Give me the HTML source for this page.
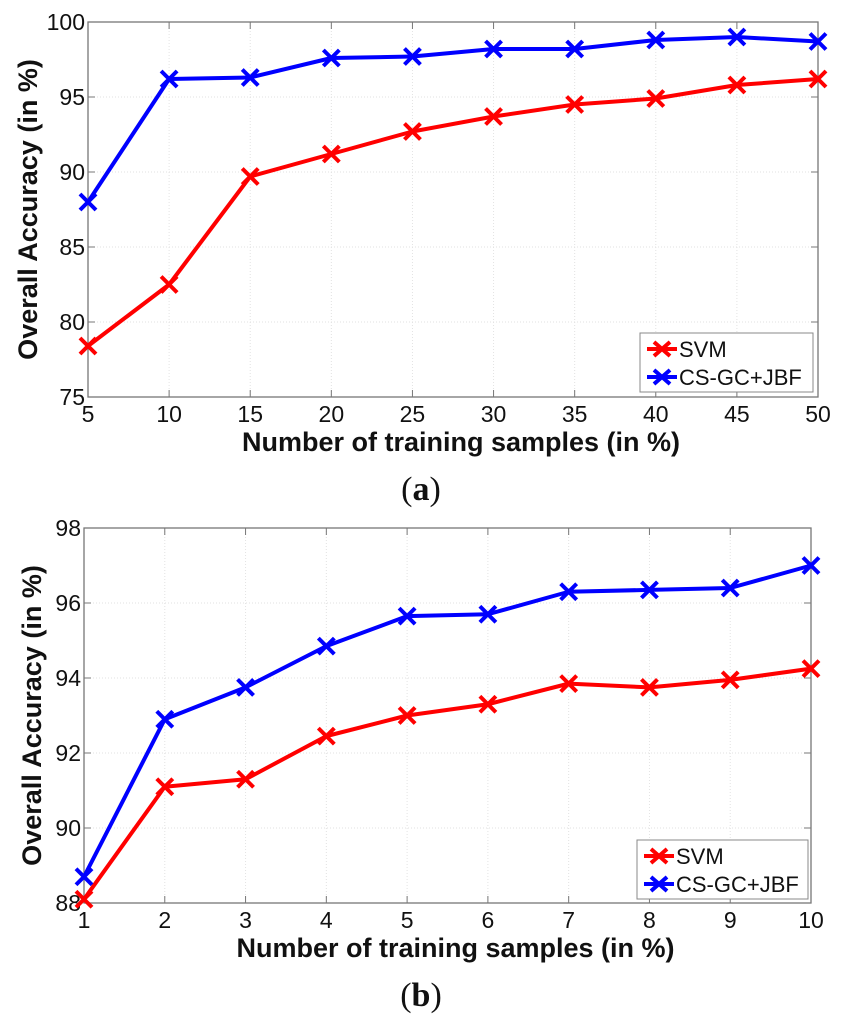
<!DOCTYPE html>
<html><head><meta charset="utf-8"><style>
body{margin:0;background:#fff;}
svg{display:block;font-family:"Liberation Sans",sans-serif;}
</style></head><body>
<svg id="svg" width="843" height="1024" viewBox="0 0 843 1024" xmlns="http://www.w3.org/2000/svg"></svg>
<script>
const xCatsA=[5,10,15,20,25,30,35,40,45,50];
const svmA=[78.4,82.5,89.7,91.2,92.7,93.7,94.5,94.9,95.8,96.2];
const csA=[88.0,96.2,96.3,97.6,97.7,98.2,98.2,98.8,99.0,98.7];
const yTicksA=[75,80,85,90,95,100];
const xCatsB=[1,2,3,4,5,6,7,8,9,10];
const svmB=[88.1,91.1,91.3,92.45,93.0,93.3,93.85,93.75,93.95,94.25];
const csB=[88.7,92.9,93.75,94.85,95.65,95.7,96.3,96.35,96.4,97.0];
const yTicksB=[88,90,92,94,96,98];
const seriesNames=["SVM","CS-GC+JBF"];

const NS="http://www.w3.org/2000/svg";
const svg=document.getElementById('svg');
function mk(tag,attrs,parent){const e=document.createElementNS(NS,tag);for(const k in attrs)e.setAttribute(k,attrs[k]);(parent||svg).appendChild(e);return e;}

function chart(id,box,xs,yT,s1,s2,leg,ytx,label){
  const g=mk('g',{});
  
  
  const xmin=xs[0],xmax=xs[xs.length-1],ymin=yT[0],ymax=yT[yT.length-1];
  const X=v=>box.l+(v-xmin)/(xmax-xmin)*(box.r-box.l);
  const Y=v=>box.b-(v-ymin)/(ymax-ymin)*(box.b-box.t);
  xs.forEach(v=>{const l=mk('line',{x1:X(v),x2:X(v),y1:box.t,y2:box.b,stroke:'#e2e2e2','stroke-width':1,'stroke-dasharray':'1 2'},g);
    });
  yT.forEach(v=>{const l=mk('line',{x1:box.l,x2:box.r,y1:Y(v),y2:Y(v),stroke:'#e2e2e2','stroke-width':1,'stroke-dasharray':'1 2'},g);
    });
  const fr=mk('rect',{x:box.l,y:box.t,width:box.r-box.l,height:box.b-box.t,fill:'none',stroke:'#777','stroke-width':1.3},g);
  
  xs.forEach(v=>{
    mk('line',{x1:X(v),x2:X(v),y1:box.b,y2:box.b-7,stroke:'#777'},g);
    mk('line',{x1:X(v),x2:X(v),y1:box.t,y2:box.t+7,stroke:'#777'},g);
    const t=mk('text',{x:X(v),y:box.b+25,'text-anchor':'middle','font-size':23,fill:'#111'},g);
    t.textContent=v;});
  yT.forEach(v=>{
    mk('line',{x1:box.l,x2:box.l+7,y1:Y(v),y2:Y(v),stroke:'#777'},g);
    mk('line',{x1:box.r,x2:box.r-7,y1:Y(v),y2:Y(v),stroke:'#777'},g);
    const t=mk('text',{x:box.l-3,y:Y(v)+8,'text-anchor':'end','font-size':23,fill:'#111'},g);
    t.textContent=v;});
  const cols=['#ff0000','#0000ff'];
  [s1,s2].forEach((s,i)=>{
    const pts=s.map((v,j)=>X(xs[j])+','+Y(v)).join(' ');
    const pl=mk('polyline',{points:pts,fill:'none',stroke:cols[i],'stroke-width':4,'stroke-linejoin':'round'},g);
    
    s.forEach((v,j)=>{const cx=X(xs[j]),cy=Y(v),r=8;
      const p=mk('path',{d:`M${cx-r},${cy-r}L${cx+r},${cy+r}M${cx-r},${cy+r}L${cx+r},${cy-r}`,stroke:cols[i],'stroke-width':4},g);
      });
  });
  const lg=mk('g',{},g);
  
  mk('rect',{x:leg.x,y:leg.y,width:leg.w,height:leg.h,fill:'#fff',stroke:'#888','stroke-width':1},lg);
  seriesNames.forEach((n,i)=>{const yy=leg.y+16+i*28,x0=leg.x+7;
    mk('line',{x1:x0,x2:x0+30,y1:yy,y2:yy,stroke:cols[i],'stroke-width':4},lg);
    const cx=x0+15;
    mk('path',{d:`M${cx-8},${yy-7}L${cx+8},${yy+7}M${cx-8},${yy+7}L${cx+8},${yy-7}`,stroke:cols[i],'stroke-width':4},lg);
    const t=mk('text',{x:x0+32,y:yy+8,'font-size':22,fill:'#111'},lg);
    t.textContent=n;});
  const xt=mk('text',{x:(box.l+box.r)/2+8,y:box.b+54,'text-anchor':'middle','font-size':27,'font-weight':'bold',fill:'#111'},g);
  xt.textContent='Number of training samples (in %)';
  const cy=(box.t+box.b)/2;
  const yt=mk('text',{x:ytx,y:cy,'text-anchor':'middle','font-size':27,'font-weight':'bold',fill:'#111',transform:`rotate(-90 ${ytx} ${cy})`},g);
  yt.textContent='Overall Accuracy (in %)';
  const lb=mk('text',{x:421,y:label,'text-anchor':'middle','font-size':34,'font-family':'"Liberation Serif",serif',fill:'#111'},g);
  lb.innerHTML='(<tspan font-weight="bold">'+id.slice(-1)+'</tspan>)';
}
chart('chart-a',{l:88,r:818,t:22,b:397},xCatsA,yTicksA,svmA,csA,{x:640,y:333,w:173,h:59},37,500);
chart('chart-b',{l:84,r:811,t:528,b:903},xCatsB,yTicksB,svmB,csB,{x:637,y:840,w:171,h:59},41,1006);
</script>
</body></html>
